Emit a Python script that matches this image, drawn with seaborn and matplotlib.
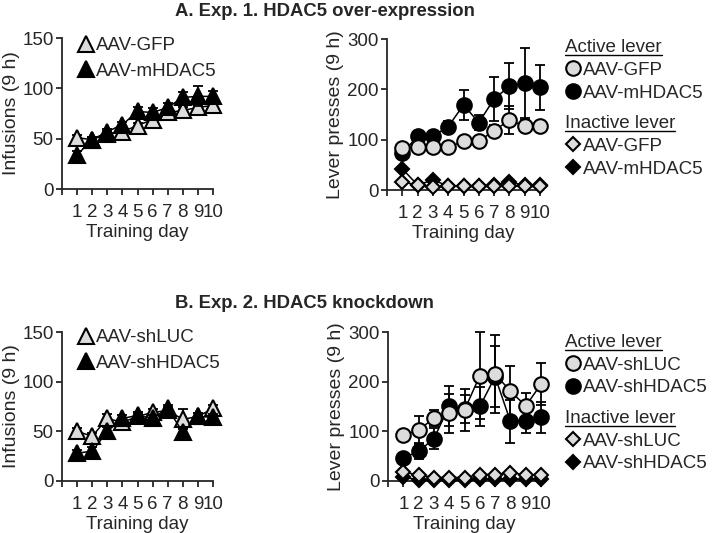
import numpy as np
import pandas as pd
import matplotlib
matplotlib.use('Agg')
import matplotlib.pyplot as plt
from matplotlib.lines import Line2D
import seaborn as sns

sns.set_style('ticks')
plt.rcParams['font.family'] = ['Liberation Sans', 'DejaVu Sans']
plt.rcParams['font.size'] = 13.5

days = np.arange(1, 11)
day_labels = ['', '1', '2', '3', '4', '5', '6', '7', '8', '9', '10']

# Exp 1 - over-expression
exp1_inf_gfp = [51, 49, 55, 57, 63, 69, 76, 78, 81, 83]
exp1_inf_gfp_err = [3, 3, 3, 3, 3, 3, 3, 3, 4, 3]
exp1_inf_hdac = [34, 49, 57, 64, 77, 76, 81, 91, 92, 92]
exp1_inf_hdac_err = [4, 3, 3, 3, 4, 4, 4, 5, 10, 5]

exp1_act_gfp = [83, 86, 86, 85, 97, 97, 118, 139, 127, 128]
exp1_act_gfp_err = [8, 6, 6, 7, 8, 8, 12, 27, 12, 10]
exp1_act_hdac = [73, 107, 107, 126, 169, 134, 181, 206, 213, 204]
exp1_act_hdac_err = [10, 10, 10, 12, 29, 15, 44, 46, 69, 45]
exp1_inact_gfp = [16, 10, 6, 8, 7, 7, 7, 8, 7, 7]
exp1_inact_hdac = [42, 10, 20, 8, 7, 7, 10, 15, 10, 10]

# Exp 2 - knockdown
exp2_inf_luc = [50, 45, 63, 59, 65, 69, 71, 62, 65, 73]
exp2_inf_luc_err = [3, 3, 4, 3, 3, 3, 3, 10, 3, 4]
exp2_inf_hdac = [28, 30, 50, 63, 66, 63, 73, 49, 65, 64]
exp2_inf_hdac_err = [3, 4, 4, 3, 3, 3, 3, 4, 3, 3]

exp2_act_luc = [92, 103, 126, 136, 143, 212, 215, 181, 151, 195]
exp2_act_luc_err = [8, 27, 16, 39, 42, 88, 78, 51, 27, 42]
exp2_act_hdac = [46, 60, 85, 151, 145, 150, 210, 120, 121, 128]
exp2_act_hdac_err = [8, 15, 21, 41, 28, 40, 62, 44, 24, 32]
exp2_inact_luc = [18, 12, 7, 7, 7, 13, 13, 17, 12, 12]
exp2_inact_hdac = [8, 2, 2, 2, 2, 3, 3, 3, 3, 3]

GREY = '#dcdcdc'
MS = {'^': 11.5, 'o': 10.5, 'D': 7.3}
FS = 13.5


def series(ax, y, err, marker, face, z):
    df = pd.DataFrame({'day': days, 'val': y})
    if err is not None:
        ax.errorbar(days, y, yerr=err, fmt='none', ecolor='black', elinewidth=1.3,
                    capsize=3.5, capthick=1.3, zorder=z - 0.5, clip_on=False)
    sns.lineplot(data=df, x='day', y='val', ax=ax, color='black', lw=1.1,
                 marker=marker, markersize=MS[marker], markerfacecolor=face,
                 markeredgecolor='black', markeredgewidth=1.5, zorder=z, clip_on=False)


def style_axes(ax, ymax, ystep, ylabel):
    ax.set_xlim(0, 10)
    ax.set_ylim(0, ymax)
    ax.set_xticks(range(0, 11))
    ax.set_xticklabels(day_labels)
    ax.set_yticks(np.arange(0, ymax + 1, ystep))
    ax.tick_params(length=4, width=1.3, pad=2, labelsize=FS)
    ax.tick_params(axis='x', pad=6.5)
    for s in ['left', 'bottom']:
        ax.spines[s].set_linewidth(1.3)
    sns.despine(ax=ax)
    ax.set_xlabel('Training day', fontsize=FS, labelpad=2.5)
    ax.set_ylabel(ylabel, fontsize=FS + 0.5, labelpad=2)


fig = plt.figure(figsize=(7.13, 5.33), dpi=100)
ax_tl = fig.add_axes([0.087, 0.6454, 0.2118, 0.2833])
ax_tr = fig.add_axes([0.5428, 0.6435, 0.2146, 0.2833])
ax_bl = fig.add_axes([0.087, 0.0976, 0.2118, 0.2795])
ax_br = fig.add_axes([0.5442, 0.0976, 0.2146, 0.2795])

# infusions
series(ax_tl, exp1_inf_gfp, exp1_inf_gfp_err, '^', GREY, 3)
series(ax_tl, exp1_inf_hdac, exp1_inf_hdac_err, '^', 'black', 4)
series(ax_bl, exp2_inf_luc, exp2_inf_luc_err, '^', GREY, 3)
series(ax_bl, exp2_inf_hdac, exp2_inf_hdac_err, '^', 'black', 4)

# lever presses
series(ax_tr, exp1_act_hdac, exp1_act_hdac_err, 'o', 'black', 3)
series(ax_tr, exp1_act_gfp, exp1_act_gfp_err, 'o', GREY, 4)
series(ax_tr, exp1_inact_hdac, None, 'D', 'black', 5)
series(ax_tr, exp1_inact_gfp, None, 'D', GREY, 6)
series(ax_br, exp2_act_hdac, exp2_act_hdac_err, 'o', 'black', 3)
series(ax_br, exp2_act_luc, exp2_act_luc_err, 'o', GREY, 4)
series(ax_br, exp2_inact_hdac, None, 'D', 'black', 5)
series(ax_br, exp2_inact_luc, None, 'D', GREY, 6)

for ax in (ax_tl, ax_bl):
    style_axes(ax, 150, 50, 'Infusions (9 h)')
for ax in (ax_tr, ax_br):
    style_axes(ax, 300, 100, 'Lever presses (9 h)')


def h(marker, face):
    return Line2D([], [], ls='none', marker=marker, markersize=MS[marker],
                  markerfacecolor=face, markeredgecolor='black', markeredgewidth=1.5)


leg_kw = dict(frameon=False, fontsize=FS, handlelength=0.8, handletextpad=0.15,
              labelspacing=0.3, borderpad=0, borderaxespad=0)

ax_tl.legend([h('^', GREY), h('^', 'black')], ['AAV-GFP', 'AAV-mHDAC5'],
             loc='upper left', bbox_to_anchor=(78 / 713, 1 - 37 / 533),
             bbox_transform=fig.transFigure, **dict(leg_kw, labelspacing=0.45))
ax_bl.legend([h('^', GREY), h('^', 'black')], ['AAV-shLUC', 'AAV-shHDAC5'],
             loc='upper left', bbox_to_anchor=(78 / 713, 1 - 329 / 533),
             bbox_transform=fig.transFigure, **dict(leg_kw, labelspacing=0.45))

titles = []
for ax, names, top in ((ax_tr, ['AAV-GFP', 'AAV-mHDAC5'], 39),
                       (ax_br, ['AAV-shLUC', 'AAV-shHDAC5'], 334)):
    l1 = ax.legend([h('o', GREY), h('o', 'black')], names, title='Active lever',
                   title_fontsize=FS, alignment='left', loc='upper left',
                   bbox_to_anchor=(565 / 713, 1 - top / 533),
                   bbox_transform=fig.transFigure, **leg_kw)
    ax.add_artist(l1)
    l2 = ax.legend([h('D', GREY), h('D', 'black')], names, title='Inactive lever',
                   title_fontsize=FS, alignment='left', loc='upper left',
                   bbox_to_anchor=(565 / 713, 1 - (top + 76) / 533),
                   bbox_transform=fig.transFigure, **leg_kw)
    titles += [l1.get_title(), l2.get_title()]

fig.text(175 / 713, 1 - 12 / 533, 'A. Exp. 1. HDAC5 over-expression', fontsize=13.3,
         fontweight='bold', ha='left', va='center')
fig.text(175 / 713, 1 - 303 / 533, 'B. Exp. 2. HDAC5 knockdown', fontsize=13.3,
         fontweight='bold', ha='left', va='center')

# underline legend titles
fig.canvas.draw()
inv = fig.transFigure.inverted()
for t in titles:
    bb = t.get_window_extent()
    (x0, y0), (x1, _) = inv.transform([[bb.x0, bb.y0 + 1], [bb.x1, bb.y0 + 1]])
    fig.add_artist(Line2D([x0, x1], [y0, y0], color='black', lw=1.0,
                          transform=fig.transFigure))

fig.savefig('out.png', dpi=100)
